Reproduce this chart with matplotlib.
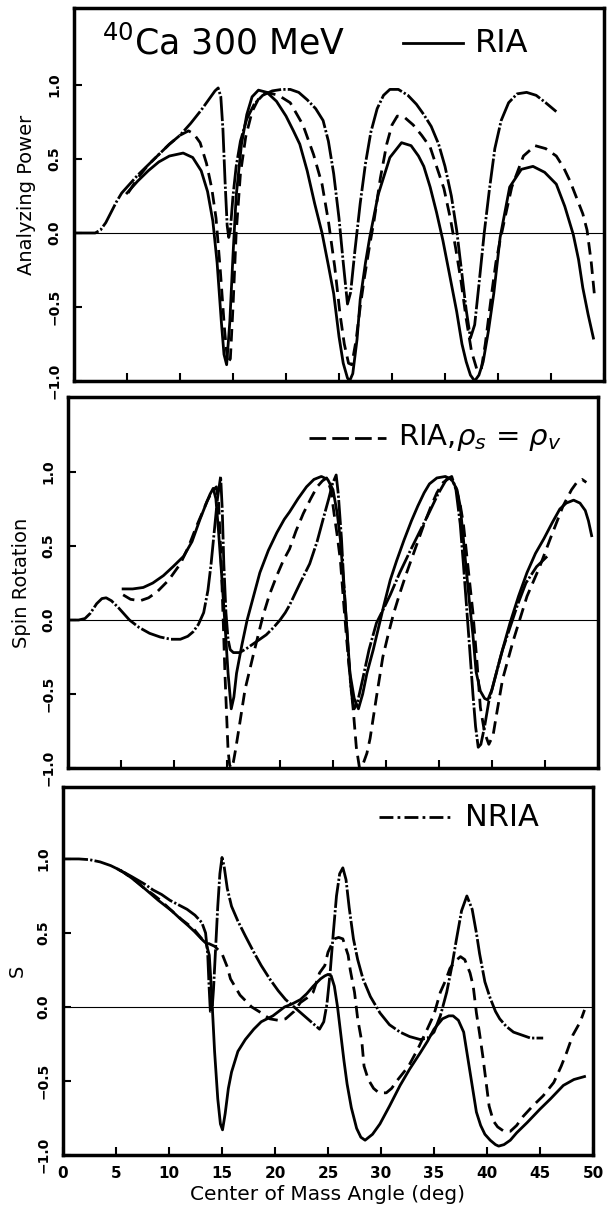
import matplotlib
matplotlib.use("Agg")
import matplotlib.pyplot as plt

# ---- Analyzing Power ----
a_nria_x = [0, 1, 2, 2.5, 3, 3.5, 4, 4.5, 5, 6, 7, 8, 9, 10, 11, 12, 12.8, 13.3, 13.6, 13.85,
            14.05, 14.25, 14.45, 14.6, 14.75, 15.0, 15.3, 15.7, 16.3, 17.0, 17.8, 18.7, 19.6, 20.4,
            21.2, 22.0, 22.8, 23.5, 24.0, 24.5, 25.0, 25.4, 25.8, 26.1, 26.5, 27.0, 27.5, 28.0, 28.6,
            29.2, 29.8, 30.6, 31.5, 32.3, 33.0, 33.7, 34.4, 35.0, 35.6, 36.1, 36.6, 37.0, 37.4, 37.8,
            38.2, 38.7, 39.2, 39.7, 40.3, 41.0, 41.8, 42.7, 43.6, 44.5, 45.5]
a_nria_y = [0, 0, 0, .02, .07, .14, .21, .27, .31, .39, .46, .53, .6, .66, .74, .83, .91, .96, .98, .92,
            .70, .35, .05, -.03, .02, .25, .45, .62, .77, .87, .93, .96, .97, .97,
            .95, .9, .84, .76, .62, .4, .1, -.2, -.48, -.4, -.12, .2, .47, .68, .84,
            .93, .97, .97, .93, .87, .8, .72, .6, .45, .25, .02, -.28, -.52, -.71, -.62,
            -.35, 0, .3, .57, .76, .88, .94, .95, .93, .88, .82]

a_ria_x = [5, 6, 7, 8, 9, 10.3, 11.2, 12, 12.6, 13.1, 13.5, 13.9, 14.15, 14.4, 14.7, 15, 15.3, 15.8,
           16.3, 16.8, 17.4, 18.2, 19.1, 20, 20.7, 21.3, 22, 22.7, 23.4, 24, 24.5, 25, 25.4, 25.8, 26,
           26.3, 26.7, 27, 27.5, 27.9, 28.7, 29.8, 30.9, 31.8, 32.5, 33, 33.6, 34.2, 34.8, 35.4, 36.1,
           36.6, 37, 37.4, 37.8, 38.2, 38.6, 39.1, 39.6, 40.2, 41.1, 42.2, 43.3, 44.4, 45.5, 46.3,
           47.1, 47.6, 48, 48.5, 49]
a_ria_y = [.27, .35, .42, .48, .52, .54, .51, .42, .28, .08, -.2, -.6, -.82, -.89, -.6, -.15, .25, .6,
           .8, .92, .965, .95, .89, .79, .69, .6, .42, .2, 0, -.22, -.41, -.7, -.88, -.98, -1,
           -.95, -.72, -.45, -.2, -.03, .26, .51, .61, .59, .52, .45, .31, .14, -.05, -.27, -.53,
           -.75, -.87, -.96, -1, -.96, -.87, -.66, -.41, -.03, .31, .43, .45, .41, .33, .18,
           -.01, -.18, -.37, -.55, -.71]

a_rss_x = [5.1, 6, 7, 8, 9, 10, 10.8, 11.3, 11.9, 12.5, 13, 13.4, 13.8, 14.2, 14.5, 14.75, 15, 15.3,
           15.7, 16.2, 16.8, 17.5, 18.2, 19.3, 20.4, 21.6, 22.6, 23.4, 24, 24.6, 25.1, 25.5, 25.9,
           26.2, 26.6, 27, 27.4, 27.9, 28.3, 28.9, 29.5, 30, 30.5, 31.2, 32, 32.8, 33.6, 34.2, 34.9,
           35.5, 36, 36.5, 37, 37.5, 38, 38.4, 38.8, 39.4, 39.8, 40.2, 40.8, 41.3, 42.4, 43.5, 44.5,
           45.5, 46.2, 46.8, 47.4, 48, 48.4, 48.8, 49.1]
a_rss_y = [.27, .37, .46, .53, .6, .66, .69, .67, .61, .47, .3, .1, -.25, -.65, -.88, -.85, -.5, 0,
           .4, .65, .82, .92, .95, .93, .88, .73, .53, .33, .08, -.23, -.55, -.75, -.88,
           -.89, -.73, -.5, -.3, -.08, .08, .37, .6, .73, .79, .78, .73, .66, .58, .45, .3,
           .1, -.1, -.32, -.58, -.8, -.92, -.93, -.75, -.41, -.2, -.05, .15, .31, .52, .59, .57,
           .52, .44, .35, .24, .13, .02, -.2, -.42]

# ---- Spin Rotation ----
r_nria_x = [0, 1, 1.6, 2.1, 2.7, 3.2, 3.6, 4.1, 4.8, 5.8, 6.7, 7.7, 8.7, 9.7, 10.6, 11.3, 11.8, 12.3,
            12.8, 13.2, 13.5, 13.8, 14.1, 14.4, 14.55, 14.7, 14.9, 15.1, 15.3, 15.6, 16.2, 16.9,
            17.5, 18.1, 18.7, 19.4, 20, 20.5, 20.9, 21.9, 22.8, 23.5, 24.1, 24.6, 24.95, 25.3, 25.5,
            25.8, 26, 26.25, 26.5, 26.75, 27, 27.3, 27.8, 28.4, 29.1, 29.8, 30.4, 31.3, 32.3, 33.2,
            34.1, 34.9, 35.7, 36.2, 36.6, 37, 37.3, 37.6, 37.9, 38.2, 38.45, 38.7, 38.95, 39.3,
            39.7, 40.4, 41, 41.7, 42.4, 43.2, 44.2, 45.2]
r_nria_y = [0, 0, .01, .045, .11, .145, .15, .13, .08, 0, -.05, -.09, -.115, -.13, -.13, -.11, -.08, -.03,
            .05, .2, .38, .6, .82, .97, .75, .38, .05, -.13, -.2, -.22, -.22, -.19,
            -.16, -.13, -.1, -.05, 0, .05, .1, .25, .38, .53, .69, .82, .92, .98, .85,
            .55, .28, 0, -.28, -.5, -.6, -.56, -.4, -.2, -.02, .08, .17, .32, .47, .6,
            .73, .85, .95, .97, .88, .65, .38, .09, -.2, -.5, -.72, -.86, -.84, -.72,
            -.55, -.36, -.2, -.05, .1, .25, .36, .43]

r_ria_x = [5.2, 6.1, 7.1, 8, 9, 9.9, 10.9, 11.7, 12.45, 13, 13.4, 13.7, 13.95, 14.2, 14.5, 14.8, 15.1,
           15.4, 15.65, 15.9, 16.4, 16.9, 17.5, 18.1, 18.9, 19.7, 20.4, 20.9, 21.7, 22.5, 23.2, 23.9,
           24.5, 25, 25.4, 25.7, 26, 26.3, 26.6, 27, 27.4, 27.8, 28.2, 28.8, 29.3, 29.8, 30.4, 31,
           31.7, 32.4, 33, 33.6, 34.1, 34.8, 35.6, 36.2, 36.7, 37, 37.3, 37.6, 37.9, 38.2, 38.5,
           38.9, 39.3, 39.6, 40, 40.8, 41.7, 42.5, 43.3, 44.1, 44.9, 45.7, 46.4, 47, 47.7, 48.3,
           48.8, 49.1, 49.4]
r_ria_y = [.21, .21, .22, .25, .3, .36, .43, .53, .68, .78, .85, .89, .82, .6, .3, -.02, -.36,
           -.6, -.52, -.36, -.17, 0, .16, .32, .47, .59, .68, .73, .82, .9, .95, .97,
           .95, .88, .72, .54, .25, -.05, -.36, -.53, -.6, -.5, -.36, -.2, -.05, .1, .27, .4,
           .54, .67, .77, .86, .92, .96, .97, .95, .88, .77, .55, .32, .1, -.1, -.35,
           -.48, -.53, -.54, -.47, -.25, -.02, .16, .32, .45, .55, .66, .75, .79, .81, .79,
           .74, .67, .57]

r_rss_x = [5.2, 5.9, 6.8, 7.6, 8.4, 9.5, 10.6, 11.4, 12.1, 12.7, 13.1, 13.6, 14, 14.2, 14.45, 14.65,
           14.8, 14.95, 15.1, 15.25, 15.4, 15.6, 15.8, 16.2, 16.7, 17.5, 18.4, 19, 19.7, 20.3, 20.9,
           21.5, 22.2, 22.9, 23.5, 24, 24.4, 24.8, 25.1, 25.4, 25.7, 26, 26.3, 26.6, 26.9, 27.2,
           27.5, 27.8, 28.2, 28.5, 29.1, 29.7, 30.2, 30.7, 31.3, 31.9, 32.7, 33.5, 34.2, 34.8, 35.4,
           36, 36.5, 37, 37.3, 37.6, 37.9, 38.2, 38.6, 38.9, 39.3, 39.7, 40.1, 40.4, 41, 42, 43.3,
           44.5, 45.5, 46.7, 47.5, 48, 48.5, 48.9]
r_rss_y = [.17, .14, .13, .15, .19, .27, .38, .5, .63, .73, .8, .87, .9, .8, .4, -.02,
           -.35, -.62, -.88, -.98, -1, -.96, -.88, -.7, -.47, -.23, .03, .17, .3, .4, .48,
           .6, .72, .82, .9, .94, .96, .88, .72, .57, .4, .12, -.14, -.38, -.6, -.86,
           -1, -.98, -.9, -.8, -.52, -.25, -.1, .04, .18, .31, .47, .63, .76, .86, .93,
           .96, .92, .78, .65, .45, .25, .05, -.3, -.59, -.76, -.84, -.78, -.65, -.4, -.14, .16,
           .36, .55, .77, .88, .93, .95, .93]

# ---- S ----
s_nria_x = [0, 1.5, 2.5, 3.5, 4.5, 5.5, 6.5, 7.7, 8.5, 9.3, 10.1, 10.9, 11.7, 12.45, 13.1, 13.45,
            13.65, 13.78, 13.9, 14.05, 14.2, 14.4, 14.6, 14.8, 15, 15.2, 15.5, 15.9, 16.5, 17.2, 18,
            18.7, 19.5, 20.3, 21, 21.8, 22.6, 23.4, 24.2, 24.6, 24.9, 25.2, 25.5, 25.8, 26.1, 26.4,
            26.7, 27, 27.4, 27.8, 28.3, 29, 29.9, 30.8, 31.8, 32.7, 33.7, 34.4, 35, 35.6, 36.2, 36.7,
            37.1, 37.6, 38.1, 38.6, 39, 39.3, 39.8, 40.3, 40.8, 41.2, 41.8, 42.5, 43.3, 44.1, 45.3]
s_nria_y = [1, 1, .995, .98, .955, .92, .88, .83, .79, .76, .72, .69, .66, .62, .57, .5,
            .36, .14, -.03, -.03, .12, .4, .68, .9, 1.01, .95, .8, .68, .58, .48, .37,
            .28, .19, .11, .05, 0, -.05, -.1, -.15, -.1, .02, .23, .5, .75, .9, .94,
            .86, .67, .46, .32, .19, .07, -.04, -.12, -.17, -.2, -.22, -.21, -.17, -.06, .1, .28,
            .45, .65, .75, .66, .5, .36, .17, .06, -.03, -.08, -.13, -.17, -.19, -.21, -.21]

s_ria_x = [5.2, 5.7, 6.5, 7.7, 9, 10.25, 11, 11.8, 12.4, 12.8, 13.2, 13.5, 13.8, 14, 14.3, 14.6, 14.85,
           15.05, 15.3, 15.6, 15.9, 16.5, 17.2, 18, 18.7, 19.8, 20.9, 21.6, 22.4, 23, 23.6, 24.3,
           24.7, 25, 25.3, 25.6, 25.9, 26.2, 26.5, 26.8, 27.2, 27.7, 28.1, 28.5, 29.2, 29.9, 30.8,
           31.8, 32.7, 33.7, 34.4, 35, 35.8, 36.4, 36.8, 37.3, 37.8, 38.4, 39, 39.4, 39.8, 40.3,
           40.8, 41.1, 41.6, 42.2, 42.8, 43.8, 45, 46, 47.2, 48.2, 49.2]
s_ria_y = [.93, .91, .87, .8, .72, .65, .6, .55, .51, .48, .45, .43, .35, .12, -.3, -.62, -.79,
           -.83, -.72, -.55, -.44, -.3, -.22, -.15, -.1, -.06, 0, .02, .05, .09, .14, .19,
           .21, .22, .21, .14, 0, -.18, -.36, -.52, -.68, -.82, -.88, -.9, -.86, -.79, -.67,
           -.53, -.42, -.31, -.23, -.15, -.08, -.06, -.06, -.09, -.17, -.44, -.71, -.8, -.86, -.9,
           -.93, -.94, -.93, -.9, -.85, -.78, -.69, -.62, -.53, -.49, -.47]

s_rss_x = [5.2, 5.7, 6.9, 7.7, 8.5, 9.2, 10.1, 11.2, 12.3, 13.1, 13.7, 14.3, 15, 15.5, 15.8, 16.7,
           17.8, 18.7, 19.5, 20.3, 21, 21.8, 22.4, 23, 23.6, 24.2, 24.7, 25, 25.6, 26, 26.4, 26.9,
           27.1, 27.5, 27.8, 28.2, 28.4, 28.8, 29.3, 29.8, 30.5, 31, 31.6, 32.6, 33.5, 34.3, 35,
           35.6, 36.1, 36.5, 37, 37.5, 37.9, 38.4, 38.7, 39, 39.3, 39.6, 39.9, 40.2, 40.6, 41,
           41.6, 42.2, 42.8, 43.4, 44.3, 45.3, 46.3, 47, 47.5, 48.1, 48.8, 49.2]
s_rss_y = [.93, .91, .85, .8, .76, .72, .66, .59, .53, .46, .43, .41, .36, .27, .19, .08,
           0, -.04, -.08, -.09, -.08, -.03, .03, .06, .1, .23, .28, .37, .46, .47, .46, .35,
           .25, .1, -.08, -.24, -.4, -.49, -.55, -.58, -.58, -.55, -.49, -.4, -.28, -.16, -.05,
           .1, .18, .26, .31, .34, .32, .23, .14, -.04, -.18, -.33, -.5, -.67, -.77, -.81,
           -.84, -.84, -.8, -.74, -.67, -.6, -.51, -.4, -.31, -.19, -.1, -.02]

W, H = 608, 1216
LW = 2.0
DASHED = (0, (4.5, 2.5))
DASHDOT = (0, (9, 0.8, 0.8, 0.8))


def make_axes(fig, left, top, bottom, ytop, ylabel, ylab_x, showx):
    ax = fig.add_axes([left / W, 1 - bottom / H, 530 / W, (bottom - top) / H])
    ax.set_xlim(0, 50)
    ax.set_ylim(-1, ytop)
    ax.axhline(0, color='black', lw=0.8, zorder=1)
    ax.set_xticks(range(0, 51, 5))
    ax.set_yticks([-1.0, -0.5, 0.0, 0.5, 1.0])
    ax.set_yticklabels(['\u22121.0', '\u22120.5', '0.0', '0.5', '1.0'],
                       rotation=90, va='center', fontsize=10, fontweight='bold')
    ax.tick_params(direction='in', length=6, width=1.5, top=False, right=False)
    ax.tick_params(axis='y', pad=9)
    if showx:
        ax.set_xticklabels([str(v) for v in range(0, 51, 5)], fontsize=11, fontweight='bold')
        ax.tick_params(axis='x', pad=8)
    else:
        ax.tick_params(labelbottom=False)
    for s in ax.spines.values():
        s.set_linewidth(2.5)
    fig.text(ylab_x / W, 1 - (top + bottom) / 2 / H, ylabel, rotation=90,
             ha='center', va='center', fontsize=14)
    return ax


def draw(ax, nx, ny, rx, ry, dx, dy):
    ax.plot(nx, ny, color='black', lw=LW, linestyle=DASHDOT)
    ax.plot(rx, ry, color='black', lw=LW)
    ax.plot(dx, dy, color='black', lw=LW, linestyle=DASHED)


fig = plt.figure(figsize=(W / 100, H / 100), dpi=100)

ax1 = make_axes(fig, 74, 8, 381, 1.52, 'Analyzing Power', 27, False)
draw(ax1, a_nria_x, a_nria_y, a_ria_x, a_ria_y, a_rss_x, a_rss_y)
ax1.text(0.052, 0.905, r'$^{40}$Ca 300 MeV', transform=ax1.transAxes, fontsize=25, va='center')
ax1.plot([0.62, 0.734], [0.905, 0.905], transform=ax1.transAxes, color='black', lw=LW)
ax1.text(0.757, 0.905, 'RIA', transform=ax1.transAxes, fontsize=23, va='center')

ax2 = make_axes(fig, 68, 397, 768, 1.507, 'Spin Rotation', 22, False)
draw(ax2, r_nria_x, r_nria_y, r_ria_x, r_ria_y, r_rss_x, r_rss_y)
ax2.plot([0.454, 0.60], [0.89, 0.89], transform=ax2.transAxes, color='black', lw=LW,
         linestyle=(0, (6, 2.2)))
ax2.text(0.622, 0.89, r'RIA,$\rho_s$ = $\rho_v$', transform=ax2.transAxes, fontsize=21, va='center')

ax3 = make_axes(fig, 63, 787, 1155, 1.486, 'S', 17, True)
draw(ax3, s_nria_x, s_nria_y, s_ria_x, s_ria_y, s_rss_x, s_rss_y)
ax3.plot([0.597, 0.736], [0.918, 0.918], transform=ax3.transAxes, color='black', lw=LW,
         linestyle=(0, (5, 1.5, 1, 1.5)))
ax3.text(0.758, 0.918, 'NRIA', transform=ax3.transAxes, fontsize=22, va='center')

fig.text(328 / W, 1 - 1195 / H, 'Center of Mass Angle (deg)', ha='center', va='center', fontsize=14.5)

fig.savefig('out.png', dpi=100)
